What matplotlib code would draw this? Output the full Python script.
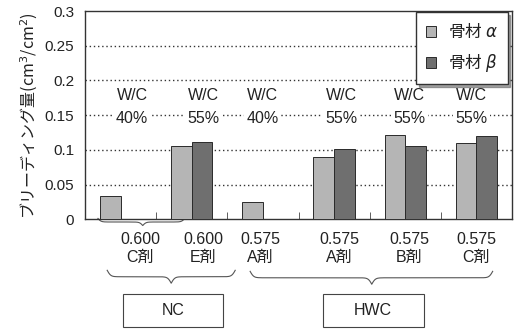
import numpy as np
import matplotlib
matplotlib.use("Agg")
import matplotlib.pyplot as plt
from matplotlib.patches import Rectangle
from matplotlib.transforms import blended_transform_factory

plt.rcParams['font.family'] = ['Liberation Sans', 'Noto Sans CJK JP', 'DejaVu Sans']

# ブリーディング量 (cm3/cm2)
ratio = ["0.600", "0.600", "0.575", "0.575", "0.575", "0.575"]
agent = ["C剤", "E剤", "A剤", "A剤", "B剤", "C剤"]
wc = ["40%", "55%", "40%", "55%", "55%", "55%"]
alpha_vals = [0.033, 0.105, 0.025, 0.090, 0.122, 0.110]
beta_vals = [np.nan, 0.112, np.nan, 0.101, 0.106, 0.120]

txt = '#222222'
c_alpha = '#b5b5b5'
c_beta = '#6f6f6f'

fig = plt.figure(figsize=(5.16, 3.31), dpi=100)
ax = fig.add_axes([0.165, 0.3375, 0.827, 0.629])

x = np.arange(len(ratio))
w = 0.29
ax.bar(x - w / 2, alpha_vals, w, color=c_alpha, edgecolor='#2a2a2a', lw=0.7,
       label=r'骨材 $\alpha$', zorder=3)
ax.bar(x + w / 2, beta_vals, w, color=c_beta, edgecolor='#2a2a2a', lw=0.7,
       label=r'骨材 $\beta$', zorder=3)

ax.set_xlim(-0.5, len(ratio) - 0.5)
ax.set_ylim(0, 0.3)
ax.set_yticks(np.arange(0, 0.31, 0.05))
ax.set_yticklabels(["0", "0.05", "0.1", "0.15", "0.2", "0.25", "0.3"])
for yv in np.arange(0.05, 0.26, 0.05):
    ax.axhline(yv, color='#333333', lw=1.0, ls=(0, (1, 2)), zorder=1)

# 目盛ラベル (水セメント比 + 混和剤)
shift = [0.27, 0.16, -0.04, 0.08, 0.06, 0.0]
ax.set_xticks(x + np.array(shift))
ax.set_xticklabels([f"{r}\n{a}" for r, a in zip(ratio, agent)],
                   fontsize=11.5, color=txt, linespacing=1.25)
ax.set_xticks(np.arange(0.5, len(ratio) - 0.5), minor=True)
ax.tick_params(axis='x', which='major', length=0, pad=9)
ax.tick_params(axis='x', which='minor', direction='in', length=5, color='#444444')
ax.tick_params(axis='y', length=0, labelsize=11, labelcolor=txt, pad=8)

for s in ax.spines.values():
    s.set_color('#333333')
    s.set_linewidth(1.0)

ax.set_ylabel(r'ブリーディング量(cm$^3$/cm$^2$)', fontsize=11.5, color=txt,
              labelpad=3, family='Noto Sans CJK JP')

# W/C ラベル
wc_shift = [0.16, 0.17, 0.0, 0.11, 0.06, -0.07]
for i, v in enumerate(wc):
    ax.text(x[i] + wc_shift[i], 0.178, "W/C", ha='center', va='center', fontsize=11.5,
            color=txt, zorder=4,
            bbox=dict(boxstyle='square,pad=0.15', fc='white', ec='none'))
    ax.text(x[i] + wc_shift[i], 0.145, v, ha='center', va='center', fontsize=11.5,
            color=txt, zorder=4,
            bbox=dict(boxstyle='square,pad=0.15', fc='white', ec='none'))

leg = ax.legend(loc='upper right', bbox_to_anchor=(0.99, 0.995), borderaxespad=0,
                fancybox=False, shadow=True, edgecolor='#333333', framealpha=1,
                prop={'family': 'Noto Sans CJK JP', 'size': 12},
                handlelength=0.6, handleheight=0.6, handletextpad=0.7,
                labelspacing=0.6, borderpad=0.6)
for t in leg.get_texts():
    t.set_color(txt)

tr = blended_transform_factory(ax.transData, ax.transAxes)


def brace(x0, xm, x1, y_top, depth, k=40.0):
    # 波括弧を左右の半分に分けて描く
    xl = np.linspace(x0, xm, 120)
    yl = 1 / (1 + np.exp(-k * (xl - xl[0]))) + 1 / (1 + np.exp(-k * (xl - xl[-1])))
    xr = np.linspace(xm, x1, 120)
    yr = 1 / (1 + np.exp(-k * (xr[-1] - xr))) + 1 / (1 + np.exp(-k * (xr[0] - xr)))
    xs = np.concatenate([xl, xr[1:]])
    ys = np.concatenate([yl, yr[1:]]) - 0.5
    ax.plot(xs, y_top - depth * ys, transform=tr, clip_on=False,
            color='#555555', lw=0.8)


brace(-0.32, 0.31, 0.90, 0.004, 0.034, k=45)
brace(-0.19, 0.71, 1.61, -0.245, 0.062)
brace(1.82, 3.53, 5.23, -0.250, 0.062)

for (bx0, bx1, lab) in [(0.03, 1.44, "NC"), (2.84, 4.26, "HWC")]:
    ax.add_patch(Rectangle((bx0, -0.519), bx1 - bx0, 0.16, transform=tr,
                           clip_on=False, fill=False, ec='#444444', lw=0.8))
    ax.text((bx0 + bx1) / 2, -0.439, lab, transform=tr, ha='center', va='center',
            fontsize=11.5, color=txt)

fig.savefig("out.png", dpi=100)
